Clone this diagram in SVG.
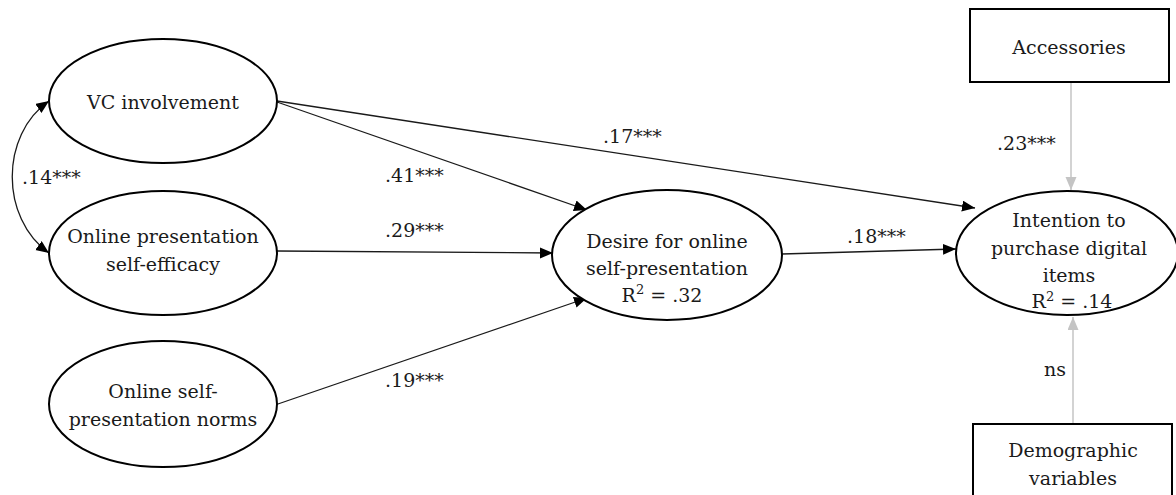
<svg xmlns="http://www.w3.org/2000/svg" width="1176" height="495" viewBox="0 0 1176 495">
  <defs>
    <style>
      text { font-family: "DejaVu Serif", "Liberation Serif", serif; font-size: 19px; fill: #1a1a1a; }
      .sup { font-size: 13px; }
      .node ellipse, .node rect { fill: #ffffff; stroke: #000000; stroke-width: 2; }
      .c { text-anchor: middle; }
      .path { fill: none; stroke: #1a1a1a; stroke-width: 1.3; }
      .ctrl { fill: none; stroke: #c4c4c4; stroke-width: 1.5; }
    </style>
    <marker id="arrow" markerUnits="userSpaceOnUse" markerWidth="14" markerHeight="12" refX="13" refY="5.5" orient="auto-start-reverse">
      <path d="M0,0 L13,5.5 L0,11 z" fill="#000000"/>
    </marker>
    <marker id="arrowGray" markerUnits="userSpaceOnUse" markerWidth="14" markerHeight="12" refX="13" refY="5.5" orient="auto">
      <path d="M0,0 L13,5.5 L0,11 z" fill="#c4c4c4"/>
    </marker>
  </defs>

  <rect width="1176" height="495" fill="#ffffff"/>

  <!-- paths between constructs -->
  <g id="connectors">
    <path class="path" d="M49,101 C0,135 0,218 49,253" marker-start="url(#arrow)" marker-end="url(#arrow)"/>
    <path class="path" d="M277,101 L975,208" marker-end="url(#arrow)"/>
    <path class="path" d="M277,102 L587,210" marker-end="url(#arrow)"/>
    <path class="path" d="M277,251 L553,253" marker-end="url(#arrow)"/>
    <path class="path" d="M275,405 L587,298" marker-end="url(#arrow)"/>
    <path class="path" d="M782,254 L956,249" marker-end="url(#arrow)"/>
    <path class="ctrl" d="M1071,82 L1071,190" marker-end="url(#arrowGray)"/>
    <path class="ctrl" d="M1073,424 L1073,317" marker-end="url(#arrowGray)"/>
  </g>

  <!-- path coefficients -->
  <g id="coefficients">
    <text x="22" y="184">.14***</text>
    <text x="385" y="182">.41***</text>
    <text x="603" y="143">.17***</text>
    <text x="385" y="237">.29***</text>
    <text x="847" y="243">.18***</text>
    <text x="385" y="387">.19***</text>
    <text x="997" y="150">.23***</text>
    <text x="1044" y="376">ns</text>
  </g>

  <g id="vc-involvement" class="node">
    <ellipse cx="163" cy="101" rx="114" ry="62"/>
    <text class="c" x="163" y="109">VC involvement</text>
  </g>

  <g id="self-efficacy" class="node">
    <ellipse cx="163" cy="253" rx="114" ry="62"/>
    <text class="c" x="163" y="243">Online presentation</text>
    <text class="c" x="163" y="271">self-efficacy</text>
  </g>

  <g id="norms" class="node">
    <ellipse cx="163" cy="404" rx="114" ry="63"/>
    <text class="c" x="163" y="398">Online self-</text>
    <text class="c" x="163" y="426">presentation norms</text>
  </g>

  <g id="desire" class="node">
    <ellipse cx="667" cy="255" rx="115" ry="65"/>
    <text class="c" x="667" y="248">Desire for online</text>
    <text class="c" x="667" y="275">self-presentation</text>
    <text class="c" x="662" y="302">R<tspan class="sup" dy="-8">2</tspan><tspan dy="8"> = .32</tspan></text>
  </g>

  <g id="intention" class="node">
    <ellipse cx="1067" cy="253" rx="111" ry="62"/>
    <text class="c" x="1069" y="227">Intention to</text>
    <text class="c" x="1069" y="255">purchase digital</text>
    <text class="c" x="1069" y="282">items</text>
    <text class="c" x="1072" y="308">R<tspan class="sup" dy="-7">2</tspan><tspan dy="7"> = .14</tspan></text>
  </g>

  <g id="accessories" class="node">
    <rect x="970" y="9" width="199" height="73"/>
    <text class="c" x="1069" y="54">Accessories</text>
  </g>

  <g id="demographics" class="node">
    <rect x="973" y="424" width="199" height="82"/>
    <text class="c" x="1073" y="457">Demographic</text>
    <text class="c" x="1073" y="485">variables</text>
  </g>
</svg>
